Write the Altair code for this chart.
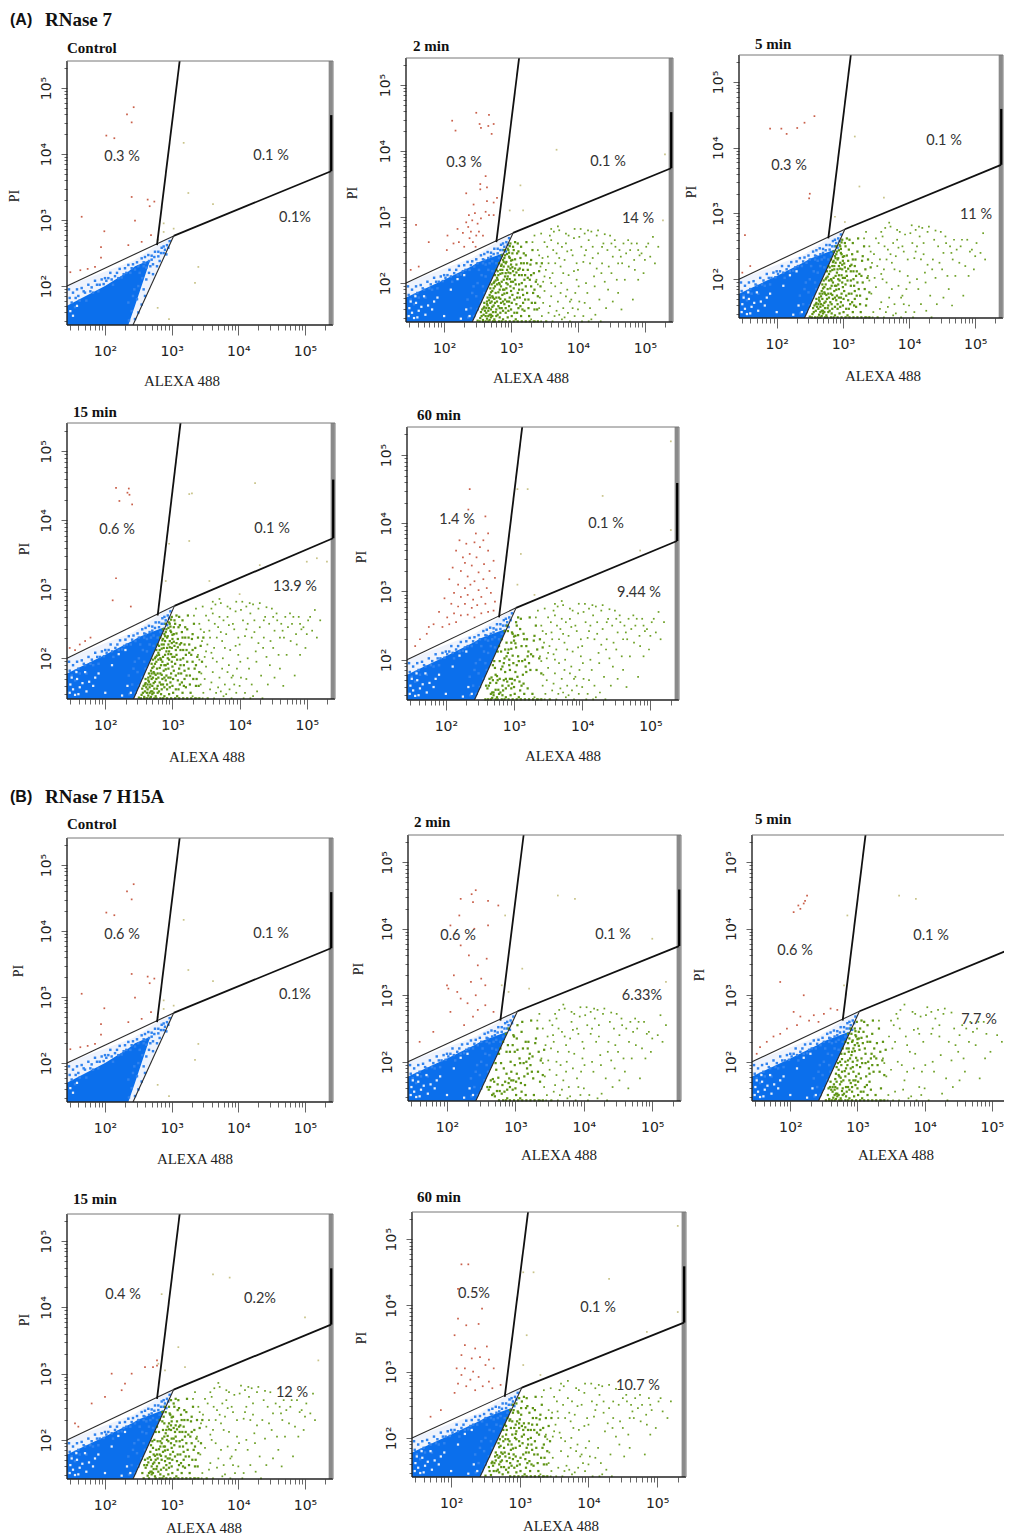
import altair as alt
import pandas as pd

# ---------- values (log10 units) ----------
X_DOMAIN = (1.43, 5.42)
Y_DOMAIN = (1.41, 5.41)
MINOR_X = [30, 40, 50, 60, 70, 80, 90, 100, 200, 300, 400, 500, 600, 700, 800, 900, 1000,
           2000, 3000, 4000, 5000, 6000, 7000, 8000, 9000, 10000, 20000, 30000, 40000, 50000,
           60000, 70000, 80000, 90000, 100000, 200000]

# gate polygons: (x1, y1, x2, y2)
GATE_LEFT = (1.43, 2.0, 3.03, 2.76)
GATE_UP = (2.78, 2.62, 3.12, 5.41)
GATE_RIGHT = (3.03, 2.76, 5.39, 3.74)
GATE_LOW = (2.42, 1.41, 3.03, 2.76)
BAR_BLACK = (5.395, 3.74, 5.395, 4.59)
BAR_GRAY = (5.385, 1.41, 5.385, 5.41)

PALE_X = [1.43, 2.42, 2.78, 3.03]
PALE_TOP = [2.0, 2.38, 2.62, 2.76]
PALE_LOW = [1.41, 1.41, 2.21, 2.76]

CORE_FULL_X = [1.43, 2.0, 2.42, 2.5, 2.876]
CORE_FULL_TOP = [1.78, 2.05, 2.26, 2.31, 2.45]
CORE_FULL_LOW = [1.41, 1.41, 1.41, 1.587, 2.42]

CORE_CTRL_X = [1.43, 2.0, 2.35, 2.45, 2.68]
CORE_CTRL_TOP = [1.7, 2.0, 2.22, 2.3, 2.4]
CORE_CTRL_LOW = [1.41, 1.41, 1.41, 1.7, 2.4]

BLUE_SPECK = [(1.5,1.75),(1.6,1.85),(1.55,1.68),(1.72,1.78),(1.8,1.98),(1.9,1.92),(1.68,1.92),(1.98,2.03),
 (2.05,2.12),(2.12,2.02),(2.18,2.2),(2.25,2.13),(2.3,2.27),(2.38,2.2),(2.42,2.33),(2.5,2.3),(2.55,2.42),(2.6,2.35),
 (2.65,2.47),(2.7,2.4),(2.75,2.52),(2.8,2.45),(2.85,2.58),(2.9,2.55),(2.93,2.62),(2.97,2.68),(2.45,2.25),(2.35,2.32),
 (2.22,2.26),(2.08,2.2),(1.95,2.1),(1.85,2.08),(1.75,2.02),(1.65,1.97),(1.52,1.9),(1.47,1.82),(2.62,2.28),(2.72,2.33),
 (2.82,2.38),(2.58,1.95),(2.62,2.1),(2.66,2.2),(2.72,2.18),(2.78,2.3),(2.55,1.72),(2.6,1.85),(2.5,1.6),(2.45,1.5),
 (2.4,1.62),(2.36,1.48),(2.35,1.75),(2.42,1.85),(2.5,2.0),(2.56,2.12),(2.48,1.8),(2.44,1.95),(2.52,2.2),(2.58,2.3),
 (2.68,2.3),(2.88,2.5),(2.74,2.44),(2.84,2.5),(2.28,2.18),(2.15,2.15),(2.02,2.08),(1.88,2.02),(1.78,1.92),(1.62,1.78),
 (1.58,1.95),(2.92,2.48),(2.95,2.58),(2.66,2.38),(1.46,1.95),(1.56,1.82),(1.7,1.9),(1.82,1.9),(1.92,2.02),(2.0,2.12),
 (2.1,2.1),(2.2,2.12),(2.32,2.2),(2.4,2.27),(2.48,2.36),(2.58,2.36),(2.7,2.46),(2.8,2.52),(2.88,2.6),(2.6,2.44)]
WHITE_HOLES = [(1.48,1.62),(1.52,1.55),(1.58,1.7),(1.62,1.58),(1.47,1.5),(1.55,1.47),(1.66,1.64),(1.72,1.52),(1.5,1.72),
 (1.6,1.48),(1.76,1.66),(1.82,1.6),(1.9,1.78),(1.7,1.8),(1.57,1.8),(1.85,1.72),(2.25,1.46),(2.33,1.6),(2.38,1.5),(2.0,1.5),
 (2.1,1.9),(2.2,2.06),(2.3,2.12)]

GREEN_DENSE = [(2.62,1.50),(2.95,2.10),(2.71,1.72),(3.10,1.85),(2.80,2.05),(2.58,1.44),(3.02,2.45),(2.86,1.62),(3.25,2.2),
 (2.76,1.95),(2.93,2.32),(2.66,1.58),(3.05,1.55),(2.84,2.2),(3.15,2.55),(2.72,1.50),(2.98,1.78),(3.3,1.95),(2.88,2.35),(2.6,1.7),
 (2.9,1.9),(2.68,1.82),(3.08,2.28),(2.78,1.6),(2.96,2.5),(3.18,1.7),(2.82,1.78),(2.74,2.0),(3.0,2.02),(2.64,1.46),
 (3.12,2.12),(2.92,1.55),(2.7,1.6),(2.86,2.28),(3.22,2.42),(2.99,2.6),(3.35,1.6),(2.77,1.85),(2.94,2.2),(2.56,1.5),
 (3.04,1.92),(2.83,1.48),(3.14,2.38),(2.73,1.78),(2.89,2.05),(3.28,2.05),(2.69,1.92),(3.06,2.62),(2.97,1.65),(2.81,2.12),
 (3.2,1.58),(2.65,1.66),(2.91,2.42),(3.38,2.3),(2.75,1.45),(3.0,2.28),(2.85,1.95),(3.11,1.62),(2.79,1.72),(2.95,1.48),
 (3.24,1.85),(2.67,1.74),(3.03,2.18),(2.87,1.82),(3.16,2.0),(2.61,1.58),(2.93,2.0),(2.72,1.88),(3.09,2.45),(2.84,1.55),
 (3.32,2.5),(2.98,2.38),(2.76,2.12),(3.01,1.7),(2.9,1.68),(2.7,1.48),(3.13,1.78),(2.83,1.9),(2.96,2.25),(3.4,1.8),
 (2.63,1.62),(3.06,2.05),(2.88,1.58),(3.19,2.3),(2.78,2.2),(2.94,1.72),(2.74,1.66),(3.07,1.45),(3.27,1.5),(2.86,2.42),
 (2.99,1.95),(2.68,1.52),(3.17,1.9),(2.8,1.52),(3.02,2.35),(2.92,2.15),(3.34,2.15),(2.75,1.76),(3.1,2.6),(2.59,1.62),
 (2.97,2.4),(2.82,2.3),(3.21,2.12),(2.71,1.98),(3.05,1.75),(2.9,2.5),(2.66,1.5),(3.15,1.5),(2.87,2.15),(3.0,1.6),
 (2.77,1.56),(3.23,2.62),(2.94,1.85),(2.69,1.7),(3.12,1.98),(2.85,1.7),(3.08,1.68),(2.79,1.98),(2.96,1.58),(3.3,2.35),
 (2.73,1.56),(3.03,2.55),(2.89,2.25),(2.64,1.72),(3.18,2.2),(2.81,1.65),(2.99,2.15),(3.36,1.7),(2.91,1.75),(3.26,1.75)]

GREEN_EDGE = [(2.5,1.43),(2.55,1.56),(2.6,1.64),(2.65,1.78),(2.7,1.86),(2.75,2.02),(2.8,2.18),(2.85,2.26),(2.9,2.38),(2.95,2.52),
 (2.54,1.47),(2.59,1.52),(2.64,1.68),(2.69,1.78),(2.74,1.92),(2.79,2.08),(2.84,2.14),(2.89,2.32),(2.94,2.44),(2.98,2.56),
 (2.53,1.42),(2.57,1.6),(2.63,1.55),(2.67,1.62),(2.72,1.8),(2.77,2.04),(2.82,2.0),(2.87,2.2),(2.92,2.3),(2.97,2.46),
 (2.62,1.42),(2.68,1.44),(2.73,1.42),(2.78,1.5),(2.83,1.62),(2.88,1.72),(2.93,1.92),(2.98,2.06),(3.02,2.24),(3.06,2.36),
 (2.58,1.42),(2.66,1.42),(2.7,1.52),(2.76,1.7),(2.81,1.86),(2.86,2.02),(2.91,2.1),(2.96,2.16),(3.0,2.34),(3.04,2.5),
 (2.76,1.42),(2.82,1.42),(2.88,1.45),(2.92,1.62),(2.97,1.72),(3.02,1.82),(3.07,1.98),(3.11,2.2),(3.15,2.3),(3.2,2.05),
 (2.86,1.42),(2.92,1.42),(2.98,1.42),(3.04,1.42),(3.1,1.42),(3.16,1.42),(3.22,1.42),(3.28,1.42),(3.34,1.42),(3.4,1.42),
 (3.01,1.5),(3.09,1.55),(3.14,1.65),(3.18,1.82),(3.22,1.95),(3.25,2.08),(3.29,2.28),(3.33,1.85),(3.37,2.02),(3.42,2.18),
 (2.84,1.76),(2.9,1.84),(2.95,1.98),(3.0,1.88),(3.05,2.12),(3.09,1.78),(3.13,2.22),(3.17,1.6),(3.21,1.75),(3.26,1.62),
 (2.72,1.64),(2.78,1.78),(2.83,1.98),(2.88,1.9),(2.94,2.06),(2.99,2.22),(3.03,2.02),(3.08,2.16),(3.12,1.9),(3.16,2.12),
 (3.31,1.7),(3.35,1.9),(3.39,1.6),(3.44,1.95),(3.46,2.3),(3.3,2.12),(3.24,2.3),(3.19,2.45),(3.11,2.48),(3.06,2.22)]

GREEN_WIDE = [(3.5,2.1),(4.1,1.7),(3.7,2.6),(4.6,2.3),(3.3,1.45),(4.9,2.5),(3.85,1.55),(3.45,2.75),(4.3,2.45),(5.05,2.6),
 (3.6,1.8),(4.0,2.2),(3.42,1.62),(4.45,1.9),(3.95,2.82),(4.75,2.65),(3.55,2.4),(4.2,1.45),(3.75,2.0),(5.2,2.55),
 (3.48,2.02),(4.05,2.55),(4.55,2.65),(3.65,1.5),(4.35,2.15),(3.8,2.35),(4.85,2.2),(3.35,2.72),(4.15,2.8),(3.9,1.75),
 (4.65,1.6),(3.52,1.42),(4.25,1.95),(3.72,2.8),(5.0,2.35),(3.44,2.25),(4.48,2.72),(3.62,2.15),(4.08,1.5),(3.82,2.6),
 (4.95,2.45),(3.58,1.65),(4.38,2.6),(3.98,2.05),(4.7,2.05),(3.4,2.5),(4.18,2.3),(3.78,1.62),(5.12,2.7),(3.68,2.45),
 (4.52,2.4),(3.88,1.42),(4.28,2.72),(3.5,1.88),(4.02,2.7),(4.8,2.6),(3.6,2.65),(4.12,2.0),(3.92,2.42),(4.42,1.62),
 (3.46,1.5),(4.6,1.85),(3.74,2.25),(4.22,2.55),(3.54,2.55),(4.9,2.05),(3.84,1.9),(4.32,1.75),(3.66,1.95),(5.08,2.4),
 (3.94,2.68),(4.5,2.15),(3.38,2.05),(4.72,2.45),(3.76,1.45),(4.1,2.42),(3.56,2.3),(4.4,2.74),(3.86,2.12),(4.62,2.5),
 (4.0,1.6),(3.32,2.62),(4.26,1.52),(3.64,2.78),(4.82,1.75),(3.96,1.85),(4.16,2.65),(3.7,1.72),(4.36,2.3),(3.5,2.62),
 (4.56,2.55),(3.8,1.48),(4.04,2.82),(3.6,2.0),(4.98,2.15),(3.9,2.5),(4.24,2.1),(3.43,1.78),(4.66,2.3),(3.72,2.38),
 (4.44,2.5),(3.53,1.42),(4.14,1.85),(3.82,2.75),(3.36,1.42),(4.78,2.5),(3.98,2.3),(4.3,2.8),(3.62,1.42),(4.88,2.6),
 (3.47,2.38),(4.06,1.42),(3.78,2.15),(4.2,2.78),(3.58,2.72),(5.15,2.3),(3.92,1.62),(4.46,2.25),(3.68,1.58),(4.34,1.42),
 (3.86,2.72),(4.58,2.05),(3.4,1.98),(4.12,2.5),(3.74,1.85),(4.76,2.25),(3.56,1.55),(4.01,1.95),(3.84,2.48),(4.68,2.6),
 (3.45,1.42),(4.22,2.38),(3.63,2.5),(4.92,2.42),(3.95,1.5),(4.4,2.02),(3.7,2.86),(4.52,1.72),(3.52,2.2),(4.1,2.75),
 (3.88,1.72),(4.28,2.22),(3.66,2.3),(5.02,2.55),(3.76,2.55),(4.18,1.62),(3.42,2.42),(4.64,2.4),(3.58,2.08),(4.08,2.32),
 (3.94,2.18),(4.36,2.55),(3.48,1.7),(4.84,2.35),(3.82,1.8),(4.5,2.6),(3.72,1.52),(4.16,1.42),(3.6,2.82),(4.02,1.72)]

RED_CTRL = [(2.43,4.71),(2.33,4.6),(2.4,4.48),(2.02,4.28),(2.14,4.24),(2.4,3.35),(2.64,3.31),(2.74,3.28),(2.67,3.21),(1.65,3.05),
 (2.45,2.99),(1.99,2.83),(1.94,2.59),(1.94,2.43),(2.35,2.62),(2.55,2.67),(2.69,2.77),(1.63,2.24),(1.74,2.26),(1.85,2.29),(1.48,2.21)]
PALE_CTRL = [(3.18,4.17),(3.25,3.41),(3.62,3.24),(2.88,2.95),(3.03,2.87),(2.88,2.82),(2.79,2.7),(3.4,2.29),(3.35,2.05),(2.79,1.67),(2.96,1.5)]

RED_A2 = [(2.48,4.58),(2.12,4.46),(2.17,4.31),(2.67,4.55),(2.74,4.41),(2.53,4.41),(2.55,4.35),(2.66,4.38),(2.71,4.26),(2.62,3.62),
 (2.54,3.5),(2.64,3.45),(2.54,3.42),(2.33,3.36),(2.64,3.24),(2.79,3.29),(2.74,3.22),(2.44,3.19),(2.46,3.06),(2.37,3.03),(2.62,3.08),
 (2.67,3.03),(2.74,3.03),(2.42,2.95),(2.5,2.9),(2.36,2.85),(2.55,2.98),(2.33,2.92),(2.4,2.78),(2.48,2.72),(2.28,2.76),(2.2,2.82),
 (2.05,2.72),(2.14,2.6),(2.43,2.62),(2.52,2.78),(2.58,2.72),(2.3,2.55),(2.22,2.62),(2.38,2.68),(2.47,2.55),(1.58,2.88),(1.77,2.62),
 (1.62,2.25),(2.04,2.5),(1.5,2.2)]
GREEN_TOP_A2 = [(3.68,4.02),(5.3,3.95),(5.27,2.95),(3.14,3.48),(2.98,3.1),(3.18,3.1)]
RED_A5 = [(1.9,4.29),(2.07,4.29),(2.15,4.21),(2.31,4.3),(2.42,4.38),(2.57,4.48),(1.52,2.67),(2.49,3.23),(1.48,2.1),(1.6,2.2),(2.5,3.3)]
RED_A15 = [(2.16,4.47),(2.35,4.46),(2.33,4.4),(2.36,4.37),(2.21,4.28),(2.4,4.23),(2.16,3.16),(2.11,2.84),(2.38,2.75),(1.62,2.2),(1.47,2.15),(1.55,2.12),(1.7,2.25),(1.78,2.3)]
PALE_A15 = [(3.29,4.39),(3.25,4.38),(4.23,4.54),(3.25,3.7),(2.95,3.66),(2.9,3.12),(3.55,3.12),(4.0,2.93),(4.3,3.35),(5.0,3.4),(5.15,3.45),(5.3,3.4)]
RED_A60 = [(2.35,4.5),(2.33,4.2),(2.58,4.1),(2.2,3.75),(2.15,3.6),(2.3,3.7),(2.42,3.72),(2.5,3.65),(2.55,3.75),(2.35,3.55),(2.62,3.6),
 (2.45,3.5),(2.28,3.42),(2.1,3.35),(2.7,3.45),(2.38,3.38),(2.56,3.4),(2.22,3.3),(2.48,3.28),(2.64,3.3),(2.32,3.22),(2.05,3.18),(2.42,3.15),
 (2.55,3.18),(2.18,3.1),(2.72,3.2),(2.28,3.05),(2.36,3.1),(2.48,3.02),(2.6,3.05),(2.12,2.98),(2.22,2.92),(2.32,2.95),(2.4,2.88),(2.52,2.92),
 (2.66,2.98),(1.98,2.9),(2.08,2.82),(2.18,2.78),(2.28,2.82),(2.38,2.76),(2.46,2.8),(2.58,2.82),(2.72,2.85),(1.9,2.7),(2.02,2.62),(2.12,2.68),
 (2.22,2.65),(2.32,2.66),(2.42,2.62),(2.52,2.68),(2.62,2.7),(1.82,2.52),(1.95,2.48),(2.05,2.52),(2.15,2.55),(2.7,2.72),(1.72,2.38),(1.62,2.3),
 (1.75,2.48),(2.25,3.5),(2.44,3.85),(2.62,3.85),(1.55,2.2)]
RED_B2 = [(2.42,4.58),(2.36,4.52),(2.38,4.4),(2.2,4.45),(2.6,4.42),(2.75,4.35),(2.18,4.2),(2.05,4.05),(2.4,4.0),(2.6,4.05),(2.2,3.75),(2.32,3.6),
 (2.58,3.55),(2.45,3.45),(2.1,3.3),(2.0,3.15),(2.02,3.1),(2.35,3.2),(2.5,3.25),(2.15,3.05),(2.42,3.0),(2.56,3.15),(2.3,2.88),(2.2,2.95),(2.45,2.78),
 (2.38,2.68),(2.56,2.85),(1.8,2.45),(1.6,2.3),(2.25,2.55),(2.05,2.75),(2.68,2.75)]
RED_B5 = [(2.12,4.35),(2.2,4.38),(2.15,4.3),(2.22,4.42),(2.05,4.25),(2.25,4.5),(1.85,3.2),(2.2,3.0),(2.05,2.75),(2.15,2.68),(2.35,2.7),(2.5,2.72),(2.6,2.8),
 (2.42,2.6),(1.95,2.5),(1.75,2.38),(1.65,2.3),(1.55,2.22),(1.85,2.42),(2.1,2.55),(2.28,2.62),(1.5,2.12),(2.7,2.78)]
RED_B15 = [(2.4,3.0),(2.6,3.1),(2.78,3.2),(2.1,3.0),(1.8,2.55),(2.25,2.75),(1.55,2.25),(1.6,2.2),(2.78,3.12),(2.72,3.1),(2.0,2.65),(2.3,2.85)]
PALE_B15 = [(2.85,4.2),(2.8,3.15),(3.62,4.5),(3.87,4.45),(3.1,3.4),(3.2,3.1),(2.9,3.05),(5.0,3.85),(5.2,3.2)]
RED_B60 = [(2.15,4.62),(2.25,4.62),(2.1,4.25),(2.35,4.2),(2.45,3.95),(2.1,3.8),(2.22,3.7),(2.4,3.72),(2.05,3.55),(2.2,3.4),(2.35,3.35),(2.52,3.38),(2.15,3.25),
 (2.3,3.2),(2.42,3.22),(2.55,3.18),(2.08,3.05),(2.2,3.05),(2.32,3.0),(2.5,3.1),(2.62,3.05),(2.15,2.95),(2.28,2.88),(2.4,2.92),(2.55,2.85),(2.1,2.82),(2.22,2.78),
 (2.35,2.72),(2.46,2.78),(2.6,2.75),(2.05,2.68),(1.85,2.42),(1.7,2.32),(2.72,2.8)]
PALE_B60 = [(3.05,4.5),(3.2,4.5),(3.1,3.55),(4.3,4.4),(5.3,5.2),(3.05,3.1),(3.3,2.95),(4.85,3.6),(5.3,3.9)]

# frames differ per panel: left, right, top, bottom in px
PANELS = [
 dict(L=67, R=333, T=61, B=325, core="ctrl", red=RED_CTRL, pale=PALE_CTRL, dense=(0, 0), wide=(0, 0), edge=(0, 0), title="Control", tx=67, ty=48, ax=182, ay=381, px=15, py=196,
      pct=[("0.3 %",122,157),("0.1 %",271,156),("0.1%",295,218)]),
 dict(L=406, R=673, T=58, B=322, core="full", red=RED_A2, pale=GREEN_TOP_A2, dense=(0, 130), wide=(0, 180), edge=(0, 110), title="2 min", tx=413, ty=46, ax=531, ay=378, px=353, py=193,
      pct=[("0.3 %",464,163),("0.1 %",608,162),("14 %",638,219)]),
 dict(L=739, R=1003, T=55, B=318, core="full", red=RED_A5, pale=PALE_CTRL[:5], dense=(10, 120), wide=(20, 130), edge=(0, 100), title="5 min", tx=755, ty=44, ax=883, ay=376, px=692, py=192,
      pct=[("0.3 %",789,166),("0.1 %",944,141),("11 %",976,215)]),
 dict(L=67, R=335, T=423, B=699, core="full", red=RED_A15, pale=PALE_A15, dense=(0, 130), wide=(30, 170), edge=(0, 110), title="15 min", tx=73, ty=412, ax=207, ay=757, px=25, py=549,
      pct=[("0.6 %",117,530),("0.1 %",272,529),("13.9 %",295,587)]),
 dict(L=407, R=679, T=427, B=700, core="full", red=RED_A60, pale=PALE_B60, dense=(40, 85), wide=(0, 170), edge=(30, 50), title="60 min", tx=417, ty=415, ax=563, ay=756, px=362, py=557,
      pct=[("1.4  %",457,520),("0.1 %",606,524),("9.44 %",639,593)]),
 dict(L=67, R=333, T=838, B=1102, core="ctrl", red=RED_CTRL, pale=PALE_CTRL, dense=(0, 0), wide=(0, 0), edge=(0, 0), title="Control", tx=67, ty=824, ax=195, ay=1159, px=19, py=971,
      pct=[("0.6 %",122,935),("0.1 %",271,934),("0.1%",295,995)]),
 dict(L=408, R=681, T=835, B=1101, core="full", red=RED_B2, pale=PALE_B15, dense=(60, 70), wide=(10, 130), edge=(50, 30), title="2 min", tx=414, ty=822, ax=559, ay=1155, px=359, py=969,
      pct=[("0.6 %",458,936),("0.1 %",613,935),("6.33%",642,996)]),
 dict(L=752, R=1020, T=835, B=1101, core="full", red=RED_B5, pale=PALE_B15[:4], dense=(5, 110), wide=(50, 90), edge=(20, 60), title="5 min", tx=755, ty=819, ax=896, ay=1155, px=700, py=975,
      pct=[("0.6 %",795,951),("0.1 %",931,936),("7.7 %",979,1020)]),
 dict(L=67, R=333, T=1214, B=1479, core="full", red=RED_B15, pale=PALE_B15, dense=(15, 115), wide=(25, 125), edge=(40, 70), title="15 min", tx=73, ty=1199, ax=204, ay=1528, px=25, py=1320,
      pct=[("0.4 %",123,1295),("0.2%",260,1299),("12 %",292,1393)]),
 dict(L=412, R=686, T=1212, B=1477, core="full", red=RED_B60, pale=PALE_B60, dense=(30, 110), wide=(60, 130), edge=(60, 60), title="60 min", tx=417, ty=1197, ax=561, ay=1526, px=362, py=1338,
      pct=[("0.5%",474,1294),("0.1 %",598,1308),("10.7 %",638,1386)]),
]
HEADINGS = [("(A)", "RNase 7", 20), ("(B)", "RNase 7 H15A", 797)]

W, H = 996, 1532
M = 8
SANS = "Liberation Sans"
SERIF = "Liberation Serif"
PCT_FONT = "Lato"


def pts(pairs):
    return pd.DataFrame({"x": [10 ** p[0] for p in pairs], "y": [10 ** p[1] for p in pairs]})


def segs(items):
    return pd.DataFrame({"x": [10 ** s[0] for s in items], "y": [10 ** s[1] for s in items],
                         "x2": [10 ** s[2] for s in items], "y2": [10 ** s[3] for s in items]})


def band(xs, top, low):
    return pd.DataFrame({"x": [10 ** v for v in xs], "y": [10 ** v for v in top], "y2": [10 ** v for v in low]})


def rotate(pool, span):
    start, n = span
    return (pool[start:] + pool[:start])[:n]


LABEL_EXPR = ("datum.value==100?'10²':datum.value==1000?'10³':"
              "datum.value==10000?'10⁴':datum.value==100000?'10⁵':''")
IS_DECADE = "datum.value==100||datum.value==1000||datum.value==10000||datum.value==100000"
MAJOR_X = {"condition": {"test": IS_DECADE, "value": 10}, "value": 5}
MAJOR_Y = {"condition": {"test": IS_DECADE, "value": 6}, "value": 3}


def panel(p):
    xs = alt.Scale(type="log", domain=[10 ** X_DOMAIN[0], 10 ** X_DOMAIN[1]], range=[p["L"] - M, p["R"] - M], nice=False)
    ys = alt.Scale(type="log", domain=[10 ** Y_DOMAIN[0], 10 ** Y_DOMAIN[1]], range=[p["B"] - M, p["T"] - M], nice=False)
    x_axis = alt.Axis(orient="bottom", offset=p["B"] - M - H, values=MINOR_X, labelExpr=LABEL_EXPR, title=None,
                      grid=False, domain=False, tickSize=MAJOR_X, tickColor="#666", tickWidth=1,
                      labelFont="DejaVu Sans", labelFontSize=14, labelColor="#222", labelPadding=9, labelOverlap=False, labelFlush=False)
    y_axis = alt.Axis(orient="left", offset=M - p["L"], values=MINOR_X + [300000], labelExpr=LABEL_EXPR, title=None,
                      grid=False, domain=False, tickSize=MAJOR_Y, tickColor="#666", tickWidth=1,
                      labelFont="DejaVu Sans", labelFontSize=14, labelColor="#222", labelAngle=270, labelAlign="center",
                      labelBaseline="bottom", labelPadding=8, labelOverlap=False, labelFlush=False)
    X = alt.X("x:Q", scale=xs, axis=x_axis)
    Y = alt.Y("y:Q", scale=ys, axis=y_axis)

    def dots(pairs, color, size=4):
        return alt.Chart(pts(pairs)).mark_square(size=size, color=color, opacity=1).encode(x=X, y=Y)

    def rules(items, color, width):
        return alt.Chart(segs(items)).mark_rule(color=color, strokeWidth=width).encode(
            x=X, y=Y, x2=alt.X2("x2:Q"), y2=alt.Y2("y2:Q"))

    core = band(CORE_CTRL_X, CORE_CTRL_TOP, CORE_CTRL_LOW) if p["core"] == "ctrl" else band(CORE_FULL_X, CORE_FULL_TOP, CORE_FULL_LOW)
    layers = [
        alt.Chart(band(PALE_X, PALE_TOP, PALE_LOW)).mark_area(color="#eef3fd", opacity=1).encode(x=X, y=Y, y2=alt.Y2("y2:Q")),
        alt.Chart(core).mark_area(color="#0b6fec", opacity=1).encode(x=X, y=Y, y2=alt.Y2("y2:Q")),
        dots(BLUE_SPECK, "#2f82ee", 6),
        dots(WHITE_HOLES if p["core"] == "full" else WHITE_HOLES[:3], "#e8f0fc", 5),
    ]
    if p["edge"][1]:
        layers.append(dots(rotate(GREEN_EDGE, p["edge"]), "#5e9413", 5))
    if p["dense"][1]:
        layers.append(dots(rotate(GREEN_DENSE, p["dense"]), "#5e9413", 5))
    if p["wide"][1]:
        layers.append(dots(rotate(GREEN_WIDE, p["wide"]), "#6fa128", 3))
    layers += [
        dots(p["pale"], "#c9c48a", 3),
        dots(p["red"], "#c9604a", 3),
        rules([BAR_GRAY], "#8a8a8a", 4),
        rules([GATE_LEFT, GATE_LOW], "#2a2a2a", 1.1),
        rules([GATE_UP, GATE_RIGHT], "#111111", 1.8),
        rules([BAR_BLACK], "#000000", 2.5),
        rules([(X_DOMAIN[0], Y_DOMAIN[0], X_DOMAIN[0], Y_DOMAIN[1]), (X_DOMAIN[0], Y_DOMAIN[0], X_DOMAIN[1], Y_DOMAIN[0])], "#222222", 1.4),
        rules([(X_DOMAIN[0], Y_DOMAIN[1], X_DOMAIN[1], Y_DOMAIN[1]), (X_DOMAIN[1], Y_DOMAIN[0], X_DOMAIN[1], Y_DOMAIN[1])], "#777777", 1),
    ]
    return alt.layer(*layers)


def label(text, px, py, font, size, weight="normal", align="center", angle=0, color="#222"):
    return alt.Chart(pd.DataFrame({"t": [text]})).mark_text(
        font=font, fontSize=size, fontWeight=weight, align=align, baseline="middle", angle=angle, color=color
    ).encode(x=alt.value(px - M), y=alt.value(py - M), text="t:N")


charts = [panel(p) for p in PANELS]
for p in PANELS:
    charts.append(label(p["title"], p["tx"], p["ty"], SERIF, 15, "bold", "left", color="#111"))
    charts.append(label("ALEXA 488", p["ax"], p["ay"], SERIF, 15))
    charts.append(label("PI", p["px"], p["py"], SERIF, 14, angle=270))
    for text, px, py in p["pct"]:
        charts.append(label(text, px, py, PCT_FONT, 14.5, color="#333"))
for tag, name, py in HEADINGS:
    charts.append(label(tag, 10, py, SANS, 16, "bold", "left", color="#111"))
    charts.append(label(name, 45, py, SERIF, 19, "bold", "left", color="#111"))

chart = alt.layer(*charts).resolve_scale(x="independent", y="independent").resolve_axis(x="independent", y="independent").properties(
    width=W, height=H, autosize=alt.AutoSizeParams(type="none"), padding=0, background="white"
).configure_view(stroke=None)

chart.save("out.html", embed_options={"renderer": "svg", "actions": False})
